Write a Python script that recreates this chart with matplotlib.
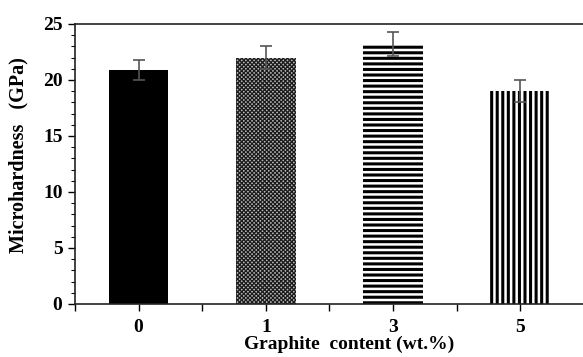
import matplotlib.pyplot as plt
import numpy as np
from matplotlib.ticker import MultipleLocator

# graphite content categories and measured microhardness
categories = ['0', '1', '3', '5']
hardness = [20.9, 22.0, 23.2, 19.0]
errors = [0.9, 1.0, 1.1, 1.0]

plt.rcParams['font.family'] = ['Liberation Serif', 'DejaVu Serif']
plt.rcParams['font.weight'] = 'bold'

fig = plt.figure(figsize=(5.83, 3.57), dpi=100)
ax = fig.add_axes([0.1286, 0.1485, 0.873, 0.7843])

x = np.arange(len(categories))
faces = ['black', '#b8b8b8', 'white', 'white']
hatches = [None, 'xxxxxxxx', '---', '|||']
hatch_lw = [1.0, 0.9, 2.2, 2.2]
for i in range(len(categories)):
    plt.rcParams['hatch.linewidth'] = hatch_lw[i]
    ax.bar(x[i], hardness[i], width=0.47, color=faces[i], hatch=hatches[i],
           edgecolor='#1a1a1a' if i == 1 else 'black', linewidth=0, zorder=2)

ax.errorbar(x, hardness, yerr=errors, fmt='none', ecolor='#555555',
            elinewidth=1.2, capsize=4, capthick=1.2, zorder=3)

ax.set_xlim(-0.5, 3.5)
ax.set_ylim(0, 25)
ax.set_xticks(x)
ax.set_xticklabels(categories)
ax.set_xticks(np.arange(-0.5, 4.0, 1.0), minor=True)
ax.yaxis.set_major_locator(MultipleLocator(5))
ax.yaxis.set_minor_locator(MultipleLocator(1))
ax.tick_params(axis='both', which='major', labelsize=14, length=5, width=1, direction='out')
ax.tick_params(axis='x', which='major', pad=6)
ax.tick_params(axis='y', which='major', pad=4)
ax.tick_params(axis='y', which='minor', length=3, width=0.8)
ax.tick_params(axis='x', which='minor', length=5, width=1)

ax.spines['right'].set_visible(False)
for s in ['left', 'bottom', 'top']:
    ax.spines[s].set_linewidth(1.2)
    ax.spines[s].set_color('#222222')

ax.set_xlabel('Graphite  content (wt.%)', fontsize=14, fontweight='bold')
ax.set_ylabel('Microhardness   (GPa)', fontsize=14.5, fontweight='bold')
ax.xaxis.set_label_coords(0.538, -0.112)
ax.yaxis.set_label_coords(-0.092, 0.532)

fig.savefig('out.png', dpi=100)
